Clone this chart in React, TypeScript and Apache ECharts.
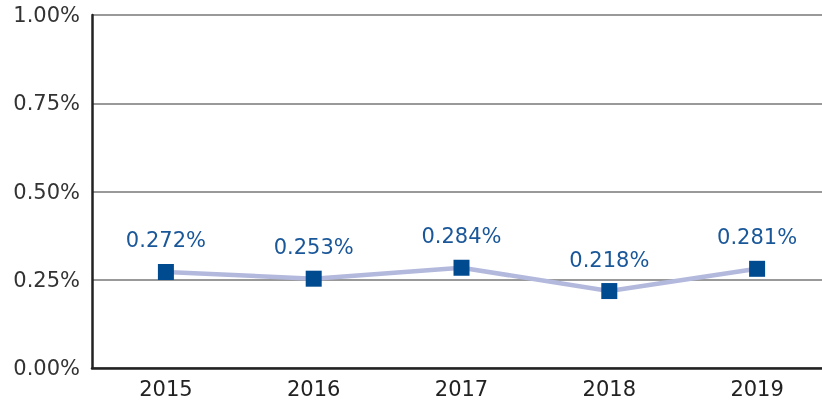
import React, { useEffect, useRef } from "react";
import * as echarts from "echarts";

const categories = ["2015", "2016", "2017", "2018", "2019"];
const values = [0.272, 0.253, 0.284, 0.218, 0.281];
const yTicks = [0, 0.25, 0.5, 0.75, 1.0];

export default function App() {
  const ref = useRef<HTMLDivElement>(null);
  useEffect(() => {
    const chart = echarts.init(ref.current!, null, { renderer: "svg" });
    chart.setOption({
      animation: false,
      textStyle: { fontFamily: "DejaVu Sans" },
      grid: { left: 92, right: 0, top: 15, bottom: 36 },
      xAxis: {
        type: "category",
        data: categories,
        boundaryGap: true,
        axisLine: { lineStyle: { color: "#222", width: 2.5 } },
        axisTick: { inside: true, length: 8, lineStyle: { color: "#222", width: 2 } },
        axisLabel: { color: "#222", fontSize: 21, margin: 10, fontFamily: "DejaVu Sans" },
      },
      yAxis: {
        type: "value",
        min: 0,
        max: 1,
        interval: 0.25,
        axisLine: { show: true, lineStyle: { color: "#222", width: 2.5 } },
        axisTick: { show: false },
        splitLine: { lineStyle: { color: "#777", width: 1.5 } },
        axisLabel: {
          color: "#333",
          fontSize: 21,
          margin: 12,
          fontFamily: "DejaVu Sans",
          formatter: (v: number) => (yTicks.includes(v) ? v.toFixed(2) + "%" : ""),
        },
      },
      series: [
        {
          type: "line",
          data: values,
          symbol: "rect",
          symbolSize: 16,
          itemStyle: { color: "#004a8f" },
          lineStyle: { color: "#b3b9dc", width: 4.5 },
          label: {
            show: true,
            position: "top",
            distance: 13,
            color: "#1a5799",
            fontSize: 21,
            fontFamily: "DejaVu Sans",
            formatter: (p: any) => p.value.toFixed(3) + "%",
          },
        },
      ],
    });
    return () => chart.dispose();
  }, []);
  return (
    <div
      ref={ref}
      style={{ position: "fixed", left: 0, top: 0, width: 831, height: 404 }}
    />
  );
}
